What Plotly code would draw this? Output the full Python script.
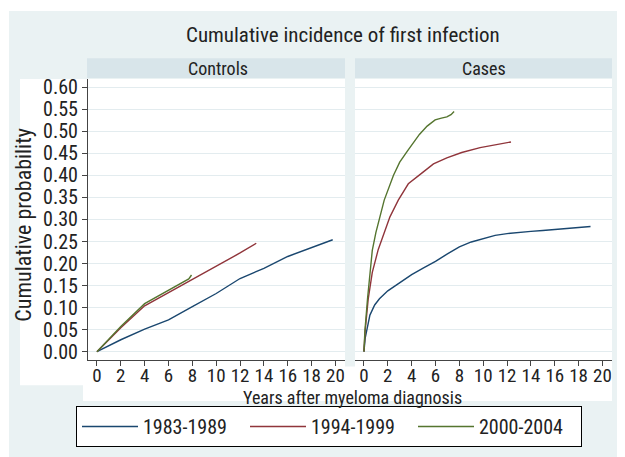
import plotly.graph_objects as go

# ---------------- data ----------------
periods = ["1983-1989", "1994-1999", "2000-2004"]
colors = ["#1a476f", "#90353b", "#55752f"]

# Controls
ctrl_t_8389 = [0, 2, 4, 6, 8, 10, 12, 14, 16, 18, 19.77]
ctrl_p_8389 = [0, 0.027, 0.051, 0.072, 0.102, 0.132, 0.166, 0.189, 0.216, 0.237, 0.254]
ctrl_t_9499 = [0, 2, 4, 6, 8, 10, 12, 13.36]
ctrl_p_9499 = [0, 0.054, 0.104, 0.134, 0.163, 0.193, 0.224, 0.246]
ctrl_t_0004 = [0, 2, 4, 6, 7, 7.7, 7.93]
ctrl_p_0004 = [0, 0.057, 0.109, 0.139, 0.154, 0.165, 0.174]

# Cases
case_t_8389 = [0, 0.1, 0.22, 0.5, 0.9, 1.3, 2, 3, 4, 5, 6, 7, 8, 9, 10, 11, 12, 13, 14, 15, 16, 17, 18, 19]
case_p_8389 = [0, 0.03, 0.046, 0.083, 0.106, 0.12, 0.138, 0.156, 0.175, 0.19, 0.205, 0.222, 0.238, 0.249,
               0.257, 0.264, 0.268, 0.271, 0.273, 0.275, 0.277, 0.279, 0.281, 0.284]
case_t_9499 = [0, 0.1, 0.36, 0.7, 1.2, 2.18, 2.88, 3.72, 4.93, 5.83, 6.95, 8.2, 9.74, 11.1, 12.33]
case_p_9499 = [0, 0.047, 0.12, 0.18, 0.232, 0.306, 0.344, 0.381, 0.407, 0.426, 0.44, 0.452, 0.463, 0.469, 0.476]
case_t_0004 = [0, 0.08, 0.3, 0.7, 1.0, 1.7, 2.47, 3.0, 3.64, 4.65, 5.3, 5.97, 6.5, 6.95, 7.3, 7.56]
case_p_0004 = [0, 0.047, 0.12, 0.23, 0.27, 0.344, 0.40, 0.43, 0.455, 0.493, 0.512, 0.526, 0.53, 0.533, 0.538, 0.545]

panels = ["Controls", "Cases"]
x_ticks = list(range(0, 21, 2))
y_ticks = [round(i * 0.05, 2) for i in range(13)]
y_ticklabels = [f"{v:.2f}" for v in y_ticks]

title = "Cumulative incidence of first infection"
x_title = "Years after myeloma diagnosis"
y_title = "Cumulative probability"

# ---------------- layout helpers ----------------
W, H = 625, 457
OFF = 8  # page body margin
FONT = "Roboto Condensed, Liberation Sans Narrow, Arial Narrow, sans-serif"
TXT = "#222222"
BG = "#eaf2f3"
STRIP = "#d8e5ea"
GRID = "#e3ecef"
AX = "#444444"


def fx(px):
    return (px - OFF) / W


def fy(py):
    return 1 - (py - OFF) / H


fig = go.Figure()

ctrl = [(ctrl_t_8389, ctrl_p_8389), (ctrl_t_9499, ctrl_p_9499), (ctrl_t_0004, ctrl_p_0004)]
case = [(case_t_8389, case_p_8389), (case_t_9499, case_p_9499), (case_t_0004, case_p_0004)]

for i, (t, p) in enumerate(ctrl):
    fig.add_trace(go.Scatter(x=t, y=p, mode="lines", name=periods[i],
                             line=dict(color=colors[i], width=1.4),
                             xaxis="x", yaxis="y", showlegend=True))
for i, (t, p) in enumerate(case):
    fig.add_trace(go.Scatter(x=t, y=p, mode="lines", name=periods[i],
                             line=dict(color=colors[i], width=1.4),
                             xaxis="x2", yaxis="y2", showlegend=False))

shapes = []
shapes.append(dict(type="rect", xref="paper", yref="paper", x0=fx(9), x1=fx(640), y0=fy(470), y1=fy(8),
                   fillcolor=BG, line=dict(width=0), layer="below"))
shapes.append(dict(type="rect", xref="paper", yref="paper", x0=fx(20), x1=fx(612), y0=fy(388), y1=fy(77),
                   fillcolor="white", line=dict(width=0), layer="below"))
shapes.append(dict(type="rect", xref="paper", yref="paper", x0=fx(83), x1=fx(612), y0=fy(404), y1=fy(77),
                   fillcolor="white", line=dict(width=0), layer="below"))
shapes.append(dict(type="rect", xref="paper", yref="paper", x0=fx(345), x1=fx(355), y0=fy(369), y1=fy(56),
                   fillcolor=BG, line=dict(width=0), layer="below"))
for x0, x1 in [(87, 345), (355, 612)]:
    shapes.append(dict(type="rect", xref="paper", yref="paper", x0=fx(x0), x1=fx(x1), y0=fy(76), y1=fy(56),
                       fillcolor=STRIP, line=dict(width=0), layer="below"))

annotations = [
    dict(text=title, x=fx(343), y=fy(32), xref="paper", yref="paper", showarrow=False,
         font=dict(family=FONT, size=21, color=TXT), xanchor="center", yanchor="middle"),
    dict(text=panels[0], x=fx(218), y=fy(66), xref="paper", yref="paper", showarrow=False,
         font=dict(family=FONT, size=18, color=TXT), xanchor="center", yanchor="middle"),
    dict(text=panels[1], x=fx(484), y=fy(66), xref="paper", yref="paper", showarrow=False,
         font=dict(family=FONT, size=18, color=TXT), xanchor="center", yanchor="middle"),
    dict(text=x_title, x=fx(352), y=fy(401), xref="paper", yref="paper", showarrow=False,
         font=dict(family=FONT, size=18, color=TXT), xanchor="center", yanchor="middle"),
    dict(text=y_title, x=fx(24), y=fy(225), xref="paper", yref="paper", showarrow=False, textangle=-90,
         font=dict(family=FONT, size=22, color=TXT), xanchor="center", yanchor="middle"),
]

xcommon = dict(range=[-0.75, 20.8], tickvals=x_ticks, ticks="outside", ticklen=5, tickcolor=AX,
               tickangle=0, ticklabelstandoff=-6,
               showline=True, linecolor=AX, linewidth=1, showgrid=False, zeroline=False,
               tickfont=dict(family=FONT, size=19, color=TXT))
ycommon = dict(range=[-0.018, 0.619], tickvals=y_ticks, showgrid=True, gridcolor=GRID, gridwidth=1,
               zeroline=False)

fig.update_layout(
    width=W, height=H,
    margin=dict(l=0, r=0, t=0, b=0),
    paper_bgcolor="white", plot_bgcolor="rgba(0,0,0,0)",
    font=dict(family=FONT, color=TXT),
    xaxis=dict(domain=[fx(88), fx(345)], anchor="y", **xcommon),
    xaxis2=dict(domain=[fx(355), fx(612)], anchor="y2", **xcommon),
    yaxis=dict(domain=[fy(362), fy(77)], anchor="x", ticktext=y_ticklabels, ticks="outside", ticklen=5,
               tickcolor=AX, showline=True, linecolor=AX, linewidth=1,
               tickfont=dict(family=FONT, size=20, color=TXT), **ycommon),
    yaxis2=dict(domain=[fy(362), fy(77)], anchor="x2", matches="y", showticklabels=False, ticks="",
                showline=False, **ycommon),
    shapes=shapes,
    annotations=annotations,
    showlegend=True,
    legend=dict(orientation="h", x=fx(329), xanchor="center", y=fy(430), yanchor="middle",
                bgcolor="white", bordercolor="black", borderwidth=1,
                font=dict(family=FONT, size=20, color=TXT),
                entrywidth=97, entrywidthmode="pixels", itemwidth=56),
)

fig.write_html("out.html")
